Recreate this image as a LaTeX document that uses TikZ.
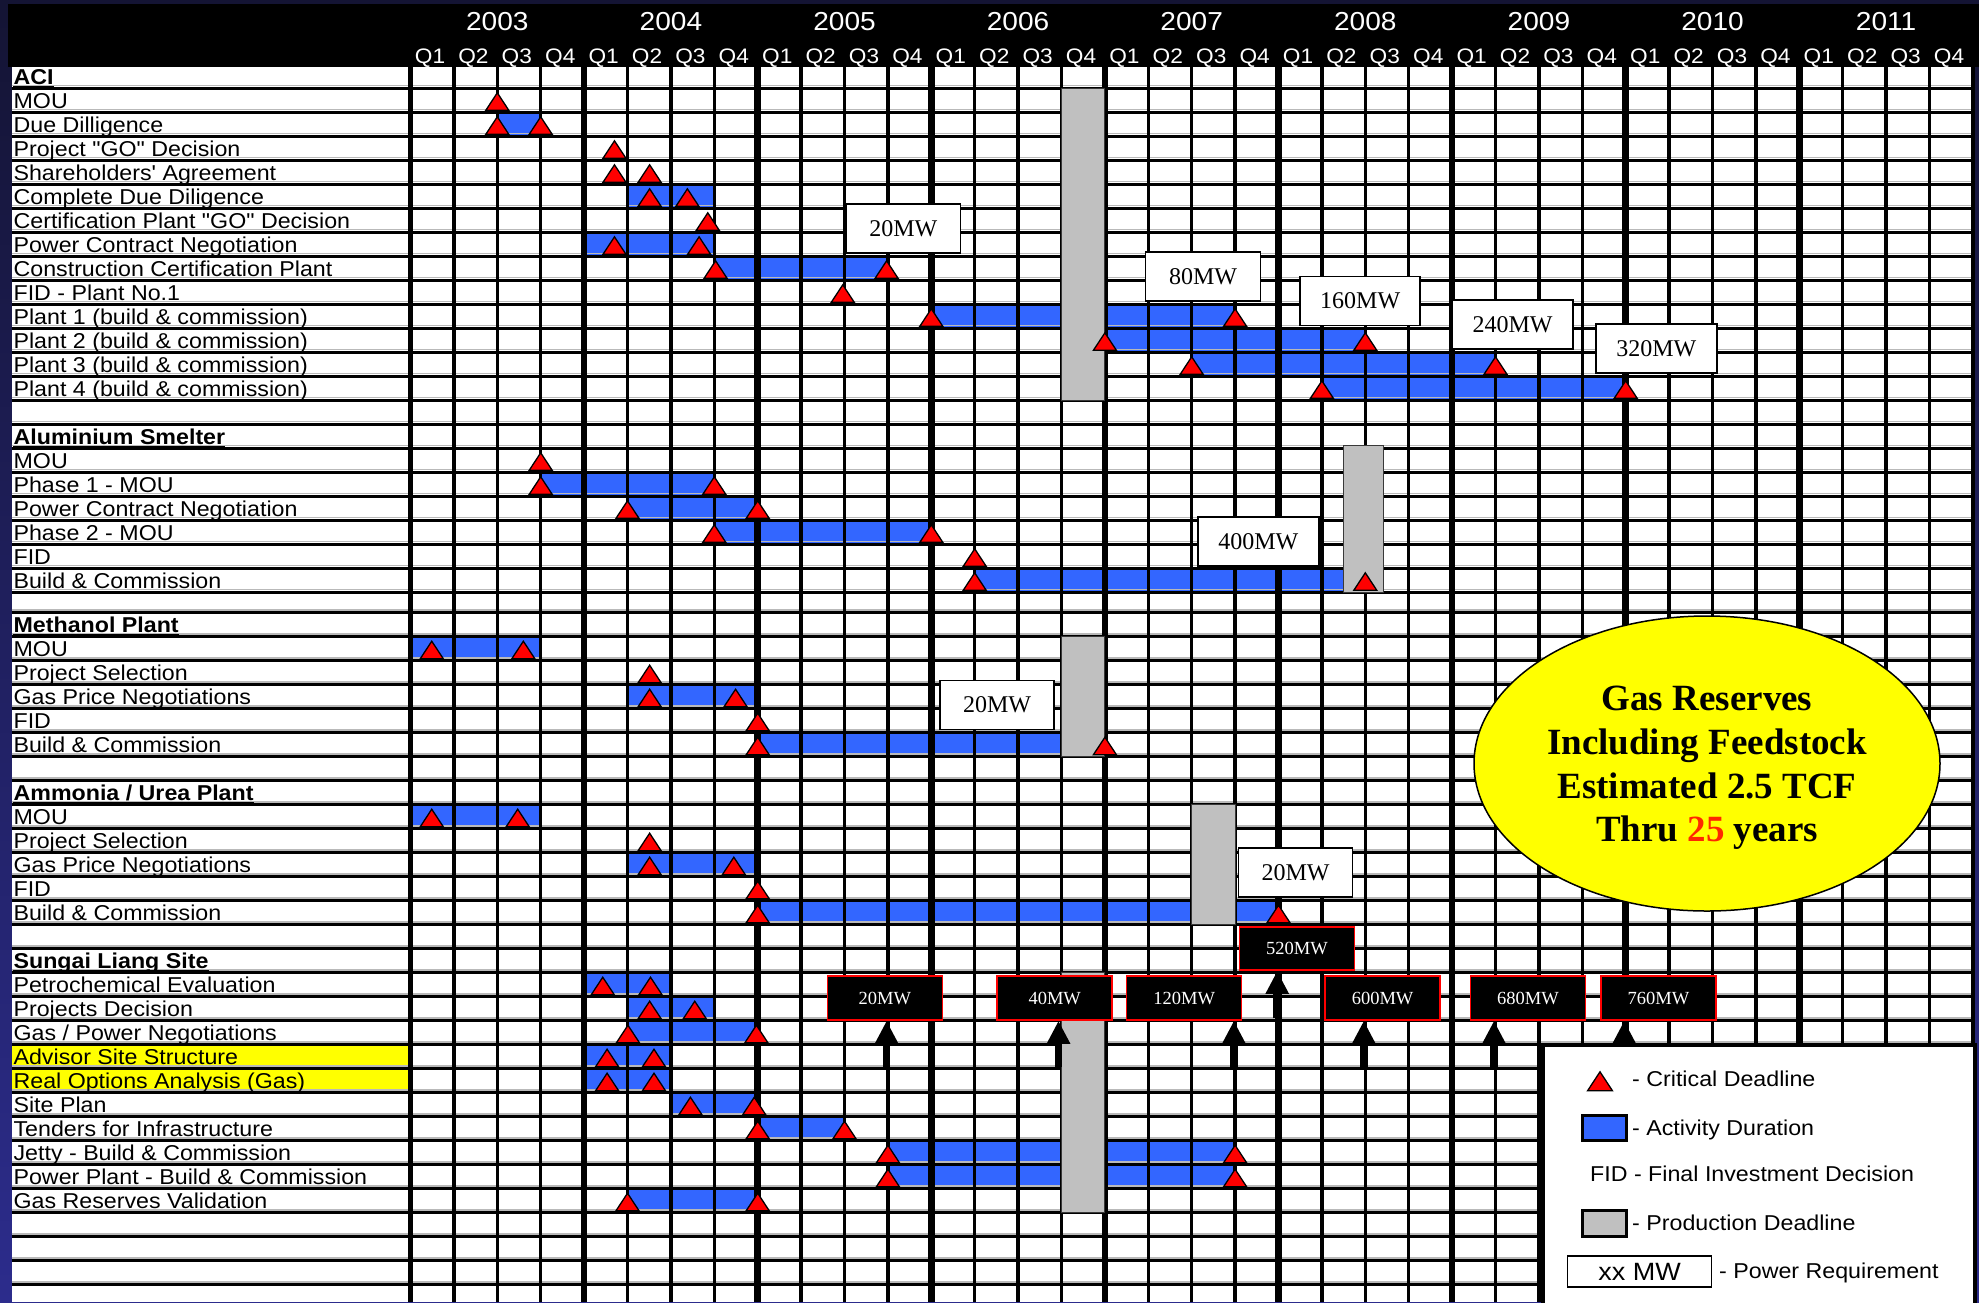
\documentclass[tikz,border=0pt]{standalone}
\usepackage{fontspec}
\usetikzlibrary{arrows.meta,shapes.geometric}
\newfontfamily\labfont{Liberation Sans}[FakeStretch=1.08]
\newfontfamily\mwfont{Liberation Serif}
\definecolor{actblue}{RGB}{51,102,255}
\definecolor{critred}{RGB}{255,0,0}
\definecolor{prodgray}{RGB}{192,192,192}
\definecolor{bgtop}{RGB}{20,20,52}
\definecolor{bgbot}{RGB}{44,44,140}
\definecolor{hiyellow}{RGB}{255,255,0}
\definecolor{redtxt}{RGB}{255,40,0}
\newcommand\rowlab[2]{\node[lab] (L#1) at (13.4,{rb(#1)-4.3}) {#2};}
\newcommand\sectlab[2]{\node[sect] (S#1) at (13.4,{rb(#1)-4.3}) {#2};
  \draw[line width=1.8pt] ([yshift=-2.6pt]S#1.base west) -- ([yshift=-2.6pt]S#1.base east);}
\newcommand\actbar[3]{\fill[actblue] ({cx(#2)},{rb(#1-1)}) rectangle ({cx(#3)},{rb(#1)});}
\newcommand\critmark[2]{\pic at ({cx(#2)},{rb(#1)-2}) {tri};}
\begin{document}
\begin{tikzpicture}[x=1pt,y=-1pt,
  declare function={cx(\i)=410.5+43.4*\i; rb(\r)=(\r<21.5)*(88.3+24*\r)+(\r>21.5)*(84.7+24*\r);},
  lab/.style={anchor=base west,inner sep=0pt,font=\labfont\fontsize{21.5}{24}\selectfont},
  sect/.style={lab,font=\labfont\bfseries\fontsize{21.5}{24}\selectfont},
  yr/.style={anchor=base,inner sep=0pt,text=white,font=\labfont\fontsize{26}{28}\selectfont},
  ql/.style={anchor=base,inner sep=0pt,text=white,font=\labfont\fontsize{21}{24}\selectfont},
  prod/.style={fill=prodgray,draw=gray!45!black,line width=1pt},
  wbox/.style={draw=black,fill=white,line width=1.5pt,inner sep=0pt,minimum height=49pt,
    font=\mwfont\fontsize{24}{24}\selectfont},
  bbox/.style={draw=critred,fill=black,text=white,line width=1.5pt,inner sep=0pt,
    minimum width=115pt,minimum height=44pt,font=\mwfont\fontsize{18.5}{20}\selectfont},
  bigarrow/.style={line width=7.5pt,-{Triangle[width=22pt,length=23pt]}},
  etext/.style={anchor=base,inner sep=0pt,font=\mwfont\bfseries\fontsize{37}{44}\selectfont},
  tri/.pic={\filldraw[fill=critred,draw=black,line width=1.3pt,line join=miter]
    (-11.5,0) -- (11.5,0) -- (0,-17.5) -- cycle;}
]
\useasboundingbox (0,0) rectangle (1979,1302);
% background
\shade[top color=bgtop,bottom color=bgbot] (0,0) rectangle (1979,1302);
\fill[black] (8,4) rectangle (1979,67);
\fill[white] (11.5,67) rectangle (1973,1302);
% header
\foreach \y [count=\k from 0] in {2003,2004,2005,2006,2007,2008,2009,2010,2011}
  \node[yr] (Y\y) at ({cx(4*\k+2)},30) {\y};
\foreach \i in {0,...,35}{
  \pgfmathtruncatemacro\qq{mod(\i,4)+1}
  \node[ql] (Q\i) at ({cx(\i+0.45)},63) {Q\qq};
}
% highlight
\fill[hiyellow] (11.5,{rb(40)}) rectangle ({cx(0)},{rb(42)});
% activity bars
\actbar{2}{2}{3}
\actbar{5}{5}{7}
\actbar{7}{4}{7}
\actbar{8}{7}{11}
\actbar{10}{12}{19}
\actbar{11}{16}{22}
\actbar{12}{18}{25}
\actbar{13}{21}{28}
\actbar{17}{3}{7}
\actbar{18}{5}{8}
\actbar{19}{7}{12}
\actbar{21}{13}{21.6}
\actbar{24}{0}{3}
\actbar{26}{5}{8}
\actbar{28}{8}{15}
\actbar{31}{0}{3}
\actbar{33}{5}{8}
\actbar{35}{8}{20}
\actbar{38}{4}{6}
\actbar{39}{5}{7}
\actbar{40}{5}{8}
\actbar{41}{4}{6}
\actbar{42}{4}{6}
\actbar{43}{6}{8}
\actbar{44}{8}{10}
\actbar{45}{11}{19}
\actbar{46}{11}{19}
\actbar{47}{5}{8}
% grid lines
\foreach \r in {0,...,50}{
  \draw[gray!55,line width=1.5pt] (11.5,{rb(\r)-2.6}) -- (1973,{rb(\r)-2.6});
  \draw[black,line width=3pt] (11.5,{rb(\r)}) -- (1973,{rb(\r)});
}
\foreach \i in {1,...,35}{
  \pgfmathsetmacro\lwv{mod(\i,4)==0 ? 6.5 : 3.5}
  \draw[black,line width=\lwv pt] ({cx(\i)},67) -- ({cx(\i)},1302);
}
\draw[black,line width=5.5pt] ({cx(0)},67) -- ({cx(0)},1302);
\draw[black,line width=3.5pt] ({cx(36)},67) -- ({cx(36)},1302);
% labels
\sectlab{0}{ACI}
\rowlab{1}{MOU}
\rowlab{2}{Due Dilligence}
\rowlab{3}{Project "GO" Decision}
\rowlab{4}{Shareholders' Agreement}
\rowlab{5}{Complete Due Diligence}
\rowlab{6}{Certification Plant "GO" Decision}
\rowlab{7}{Power Contract Negotiation}
\rowlab{8}{Construction Certification Plant}
\rowlab{9}{FID - Plant No.1}
\rowlab{10}{Plant 1 (build \& commission)}
\rowlab{11}{Plant 2 (build \& commission)}
\rowlab{12}{Plant 3 (build \& commission)}
\rowlab{13}{Plant 4 (build \& commission)}
\sectlab{15}{Aluminium Smelter}
\rowlab{16}{MOU}
\rowlab{17}{Phase 1 - MOU}
\rowlab{18}{Power Contract Negotiation}
\rowlab{19}{Phase 2 - MOU}
\rowlab{20}{FID}
\rowlab{21}{Build \& Commission}
\sectlab{23}{Methanol Plant}
\rowlab{24}{MOU}
\rowlab{25}{Project Selection}
\rowlab{26}{Gas Price Negotiations}
\rowlab{27}{FID}
\rowlab{28}{Build \& Commission}
\sectlab{30}{Ammonia / Urea Plant}
\rowlab{31}{MOU}
\rowlab{32}{Project Selection}
\rowlab{33}{Gas Price Negotiations}
\rowlab{34}{FID}
\rowlab{35}{Build \& Commission}
\sectlab{37}{Sungai Liang Site}
\rowlab{38}{Petrochemical Evaluation}
\rowlab{39}{Projects Decision}
\rowlab{40}{Gas / Power Negotiations}
\rowlab{41}{Advisor Site Structure}
\rowlab{42}{Real Options Analysis (Gas)}
\rowlab{43}{Site Plan}
\rowlab{44}{Tenders for Infrastructure}
\rowlab{45}{Jetty - Build \& Commission}
\rowlab{46}{Power Plant - Build \& Commission}
\rowlab{47}{Gas Reserves Validation}
% production deadlines
\draw[prod] ({cx(15)},{rb(0)}) rectangle ({cx(16)},{rb(13)});
\draw[prod] (1343.8,445) rectangle (1383.4,{rb(21)});
\draw[prod] ({cx(15)},{rb(23)}) rectangle ({cx(16)},{rb(28)});
\draw[prod] ({cx(18)},{rb(30)}) rectangle ({cx(19)},{rb(35)});
\draw[prod] ({cx(15)},{rb(37)}) rectangle ({cx(16)},{rb(47)});
% critical deadlines
\critmark{1}{2}
\critmark{2}{2}\critmark{2}{3}
\critmark{3}{4.70}
\critmark{4}{4.70}\critmark{4}{5.51}
\critmark{5}{5.51}\critmark{5}{6.38}
\critmark{6}{6.85}
\critmark{7}{4.70}\critmark{7}{6.65}
\critmark{8}{7.03}\critmark{8}{10.97}
\critmark{9}{9.96}
\critmark{10}{12}\critmark{10}{19}
\critmark{11}{16}\critmark{11}{22}
\critmark{12}{18}\critmark{12}{25}
\critmark{13}{21}\critmark{13}{28}
\critmark{16}{3}
\critmark{17}{3}\critmark{17}{7}
\critmark{18}{5}\critmark{18}{8}
\critmark{19}{7}\critmark{19}{12}
\critmark{20}{13}
\critmark{21}{13}\critmark{21}{22}
\critmark{24}{0.49}\critmark{24}{2.6}
\critmark{25}{5.51}
\critmark{26}{5.51}\critmark{26}{7.49}
\critmark{27}{8}
\critmark{28}{8}\critmark{28}{16}
\critmark{31}{0.49}\critmark{31}{2.47}
\critmark{32}{5.51}
\critmark{33}{5.51}\critmark{33}{7.45}
\critmark{34}{8}
\critmark{35}{8}\critmark{35}{20}
\critmark{38}{4.43}\critmark{38}{5.53}
\critmark{39}{5.51}\critmark{39}{6.55}
\critmark{40}{5.01}\critmark{40}{7.97}
\critmark{41}{4.53}\critmark{41}{5.61}
\critmark{42}{4.53}\critmark{42}{5.61}
\critmark{43}{6.45}\critmark{43}{7.92}
\critmark{44}{8}\critmark{44}{10}
\critmark{45}{11}\critmark{45}{19}
\critmark{46}{11}\critmark{46}{19}
\critmark{47}{5}\critmark{47}{8}
% power requirement boxes
\node[wbox,minimum width=114pt] (W1) at (903.4,228.7) {20MW};
\node[wbox,minimum width=115pt] (W2) at (1203.1,276.7) {80MW};
\node[wbox,minimum width=120pt] (W3) at (1360.2,301) {160MW};
\node[wbox,minimum width=121pt] (W4) at (1512.5,324.7) {240MW};
\node[wbox,minimum width=121pt] (W5) at (1656.3,348.7) {320MW};
\node[wbox,minimum width=121pt] (W6) at (1258.3,541.7) {400MW};
\node[wbox,minimum width=114pt] (W7) at (997.1,705) {20MW};
\node[wbox,minimum width=114pt] (W8) at (1295.6,872.5) {20MW};
% cumulative power boxes
\node[bbox,minimum height=43pt] (B0) at (1296.9,948.7) {520MW};
\node[bbox] (B1) at (884.8,998) {20MW};
\node[bbox] (B2) at (1054.7,998) {40MW};
\node[bbox] (B3) at (1184.2,998) {120MW};
\node[bbox] (B4) at (1382.6,998) {600MW};
\node[bbox] (B5) at (1527.9,998) {680MW};
\node[bbox] (B6) at (1658.5,998) {760MW};
\coordinate (A0) at (1277.2,1018.3);
\coordinate (A1) at (886.6,1066.7);
\coordinate (A2) at (1058.5,1066.7);
\coordinate (A3) at (1233.9,1066.7);
\coordinate (A4) at (1363.8,1066.7);
\coordinate (A5) at (1494,1066.7);
\coordinate (A6) at (1624.2,1066.7);
\foreach \n in {0,...,6}
  \draw[bigarrow] (A\n) -- (A\n |- B\n.south);
% gas reserves ellipse
\node[ellipse,draw=black,fill=hiyellow,line width=1.5pt,minimum width=466pt,minimum height=295pt,inner sep=0pt] (E) at (1707,763.5) {};
\node[etext] (E1) at (1707,710) {Gas Reserves};
\node[etext] (E2) at (1707,754) {Including Feedstock};
\node[etext] (E3) at (1707,798.3) {Estimated 2.5 TCF};
\node[etext] (E4) at (1707,841.7) {Thru \textcolor{redtxt}{25} years};
% legend
\node[draw=black,fill=white,line width=4pt,anchor=north west,inner sep=0pt,minimum width=432pt,minimum height=290pt] (LG) at (1540.8,1043.3) {};
\pic[scale=1.08] at (1600,1090.7) {tri};
\node[lab] (LG1) at (1632,1086.7) {- Critical Deadline};
\node[draw=black,fill=actblue,line width=3pt,minimum width=44.6pt,minimum height=25.7pt,inner sep=0pt] (LGb) at (1604.6,1127.9) {};
\node[lab] (LG2) at (1632,1135) {- Activity Duration};
\node[lab] (LG3) at (1590,1181.7) {FID - Final Investment Decision};
\node[draw=black,fill=prodgray,line width=3pt,minimum width=44.6pt,minimum height=26pt,inner sep=0pt] (LGg) at (1604.6,1223.7) {};
\node[lab] (LG4) at (1632,1230) {- Production Deadline};
\node[draw=black,fill=white,line width=1.5pt,minimum width=144pt,minimum height=30.7pt,inner sep=0pt,font=\labfont\fontsize{25}{26}\selectfont] (LGw) at (1639.6,1271.4) {xx MW};
\node[lab] (LG5) at (1719,1278.3) {- Power Requirement};
\end{tikzpicture}
\end{document}
